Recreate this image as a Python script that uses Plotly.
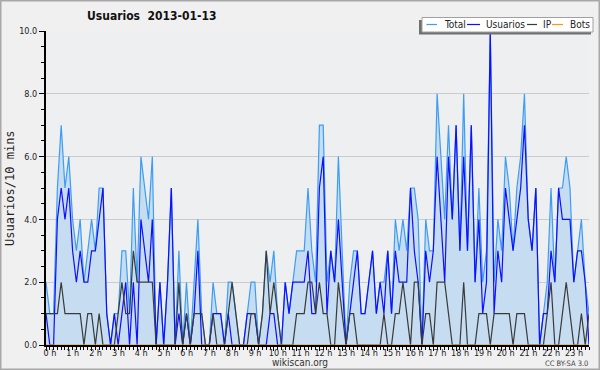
import plotly.graph_objects as go

# ---- data (10-minute slots over one day) ----
slots = list(range(144))
hour_ticks = list(range(0, 144, 6))
hour_labels = [f"{h} h" for h in range(24)]

total = [2,1,1,5,7,5,6,4,3,4, 2,3,4,3,5,5,1,0,1,1, 3,3,1,5,2,6,5,4,6,0,
         2,0,2,5,0,3,0,2,0,2, 4,1,0,0,2,1,1,0,2,2, 1,0,0,1,2,2,0,1,3,2,
         3,1,0,2,1,2,3,3,3,5, 3,2,7,7,2,3,2,6,3,0, 2,3,3,1,1,2,3,1,2,2,
         3,1,4,3,4,3,5,5,4,0, 4,3,3,8,6,4,7,4,7,3, 8,3,7,2,5,2,3,10,2,4,
         3,6,5,3,5,6,8,4,3,5, 0,1,2,5,2,5,5,6,5,2, 3,4,2,1]
usuarios = [1,0,0,4,5,4,5,3,2,3, 2,2,3,3,4,5,1,0,1,0, 1,2,0,2,0,4,3,2,4,0,
            2,0,2,5,0,1,0,1,0,1, 3,0,0,0,1,1,1,0,1,0, 0,0,0,1,1,1,0,0,0,1,
            1,0,0,2,1,2,2,2,2,3, 1,1,5,6,1,3,2,4,2,0, 1,2,3,1,1,2,3,1,2,1,
            3,1,3,2,2,2,5,3,2,0, 3,2,3,6,4,2,6,4,7,3, 6,3,7,2,4,1,2,10,1,3,
            2,5,4,3,4,5,7,4,3,5, 0,1,1,3,2,5,4,4,4,2, 3,3,2,0]
ip = [1,1,1,1,2,1,1,1,1,1, 0,1,1,0,1,0,0,0,0,1, 2,1,1,3,2,2,2,2,2,0,
      0,0,0,0,0,2,0,1,0,1, 1,1,0,0,1,0,0,0,1,2, 1,0,0,0,1,1,0,1,3,1,
      2,1,0,0,0,0,1,1,1,2, 2,1,2,1,1,0,0,2,1,0, 1,1,0,0,0,0,0,0,0,1,
      0,0,1,1,2,1,0,2,2,0, 1,1,0,2,2,2,1,0,0,0, 2,0,0,0,1,1,1,0,1,1,
      1,1,1,0,1,1,1,0,0,0, 0,0,1,2,0,0,1,2,1,0, 0,1,0,1]
bots = [0] * 144

series_names = ["Total", "Usuarios", "IP", "Bots"]
series_colors = ["#3d9df5", "#0f0fff", "#3a3a3a", "#ff9900"]

# ---- layout geometry (pixels) ----
W, H = 600, 370
L, R, T, B = 46, 11, 31, 25
PW, PH = W - L - R, H - T - B

def px(x):
    return (x - L) / PW

def py(y):
    return (H - B - y) / PH

FONT = "DejaVu Sans Condensed, DejaVu Sans, sans-serif"

fig = go.Figure()
fig.add_trace(go.Scatter(x=slots, y=total, mode="lines", name="Total",
                         line=dict(color=series_colors[0], width=1.2),
                         fill="tozeroy", fillcolor="#c6dcf0"))
fig.add_trace(go.Scatter(x=slots, y=usuarios, mode="lines", name="Usuarios",
                         line=dict(color=series_colors[1], width=1.2)))
fig.add_trace(go.Scatter(x=slots, y=ip, mode="lines", name="IP",
                         line=dict(color=series_colors[2], width=1.2)))
fig.add_trace(go.Scatter(x=slots, y=bots, mode="lines", name="Bots",
                         line=dict(color=series_colors[3], width=1.2)))

fig.update_layout(
    width=W, height=H,
    margin=dict(l=L, r=R, t=T, b=B, autoexpand=False),
    paper_bgcolor="#f0f0f0",
    plot_bgcolor="#edeff1",
    showlegend=False,
    font=dict(family=FONT, size=10, color="#222"),
)
fig.update_xaxes(
    automargin=False,
    range=[0, 143], tickvals=hour_ticks, ticktext=hour_labels,
    showgrid=False, zeroline=False,
    showline=True, linecolor="#000", linewidth=2,
    ticks="outside", ticklen=4, tickcolor="#000", tickwidth=1,
    tickfont=dict(family=FONT, size=9, color="#222"),
    ticklabelshift=4, ticklabelstandoff=-6,
    minor=dict(dtick=1, tick0=0, ticks="outside", ticklen=3, tickcolor="#000", showgrid=False),
)
fig.update_yaxes(
    automargin=False,
    range=[0, 10], dtick=2, tick0=0, tickformat=".1f",
    showgrid=True, gridcolor="#cccccc", gridwidth=1, zeroline=False,
    showline=True, linecolor="#000", linewidth=2,
    ticks="outside", ticklen=5, tickcolor="#000",
    tickfont=dict(family=FONT, size=9, color="#222"),
    minor=dict(dtick=0.5, ticks="outside", ticklen=3, tickcolor="#000", showgrid=False),
)

shapes = []
ann = []
# outer frame
shapes.append(dict(type="rect", xref="paper", yref="paper",
                   x0=px(0.5), x1=px(W - 0.5), y0=py(H - 0.5), y1=py(0.5),
                   line=dict(color="#a8a8a8", width=2), fillcolor="rgba(0,0,0,0)", layer="above"))
# legend shadow + box
shapes.append(dict(type="rect", xref="paper", yref="paper",
                   x0=px(419), x1=px(591), y0=py(34.5), y1=py(20),
                   line=dict(width=0), fillcolor="#707070", layer="above"))
shapes.append(dict(type="rect", xref="paper", yref="paper",
                   x0=px(422), x1=px(593), y0=py(32), y1=py(17.5),
                   line=dict(color="#a0a0a0", width=1), fillcolor="#ffffff", layer="above"))
leg_line_x = [(426.5, 437), (467, 480), (527, 537), (552, 563)]
leg_text_x = [442, 484, 541, 568]
for name, col, (a, b), tx in zip(series_names, series_colors, leg_line_x, leg_text_x):
    shapes.append(dict(type="line", xref="paper", yref="paper",
                       x0=px(a), x1=px(b), y0=py(24.5), y1=py(24.5),
                       line=dict(color=col, width=1.2), layer="above"))
    ann.append(dict(text=name, xref="paper", yref="paper", x=px(tx), y=py(24.5),
                    xanchor="left", yanchor="middle", showarrow=False,
                    font=dict(family=FONT, size=10, color="#222")))

ann.append(dict(text="Usuarios  2013-01-13", xref="paper", yref="paper",
                x=px(85), y=py(16.5), xanchor="left", yanchor="middle", showarrow=False,
                font=dict(family=FONT, size=12, color="#111", weight="bold")))
ann.append(dict(text="Usuarios/10 mins", xref="paper", yref="paper",
                x=px(10), y=py(188), xanchor="center", yanchor="middle", showarrow=False,
                textangle=-90, font=dict(family="DejaVu Sans Mono, monospace", size=12, color="#222")))
ann.append(dict(text="wikiscan.org", xref="paper", yref="paper",
                x=px(300), y=py(362.5), xanchor="center", yanchor="middle", showarrow=False,
                font=dict(family=FONT, size=10, color="#333")))
ann.append(dict(text="CC BY-SA 3.0", xref="paper", yref="paper",
                x=px(590), y=py(363), xanchor="right", yanchor="middle", showarrow=False,
                font=dict(family=FONT, size=7.5, color="#444")))

fig.update_layout(shapes=shapes, annotations=ann)
fig.write_html("out.html", config={"displayModeBar": False},
               post_script="document.body.style.margin='0';document.body.style.overflow='hidden';")
